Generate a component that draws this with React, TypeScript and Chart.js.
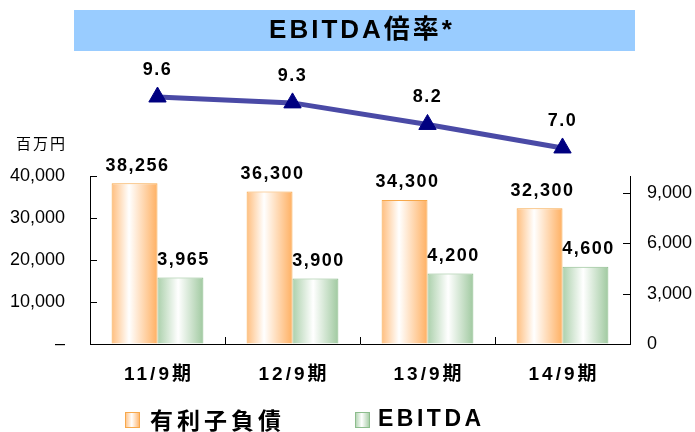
import React, { useEffect, useRef } from 'react';
import { Chart, registerables } from 'chart.js';

Chart.register(...registerables);

const categories = ['11/9期', '12/9期', '13/9期', '14/9期'];
const debtValues = [38256, 36300, 34300, 32300];
const ebitdaValues = [3965, 3900, 4200, 4600];
const ratioValues = [9.6, 9.3, 8.2, 7.0];
const leftTicks = [0, 10000, 20000, 30000, 40000];
const rightTicks = [0, 3000, 6000, 9000];
const seriesNames = ['有利子負債', 'EBITDA'];
const titleText = 'EBITDA倍率*';
const unitText = '百万円';

const CJK = '"Noto Sans CJK JP", "Liberation Sans", sans-serif';
const LAT = '"Liberation Sans", Arial, "Noto Sans CJK JP", sans-serif';
const CAT_PCT = 0.68;

const ORANGE = { l: '#ffbe7e', m: '#ffffff', r: '#ffb062', border: '#f7a84b', mid: 0.38 };
const GREEN = { l: '#abd0ab', m: '#ffffff', r: '#a0c9a0', border: '#8dbd8d', mid: 0.45 };

function makeGrad(ctx: CanvasRenderingContext2D, left: number, w: number, c: any, mid: number) {
  const g = ctx.createLinearGradient(left, 0, left + w, 0);
  g.addColorStop(0, c.l);
  g.addColorStop(mid, c.m);
  g.addColorStop(1, c.r);
  return g;
}

const fmt = (v: number) => v.toLocaleString('en-US');

const decorPlugin = {
  id: 'decor',
  beforeDraw(chart: any) {
    const s = chart.scales.x;
    if (s && !s.__ls) {
      const orig = s.drawLabels.bind(s);
      s.drawLabels = (ca: any) => {
        const c = chart.ctx;
        c.save();
        (c as any).letterSpacing = '3px';
        c.translate(1.5, 0);
        orig(ca);
        c.restore();
      };
      s.__ls = true;
    }
  },
  beforeDatasetsDraw(chart: any) {
    const ctx = chart.ctx as CanvasRenderingContext2D;
    [0, 1].forEach((di) => {
      const colors = di === 0 ? ORANGE : GREEN;
      chart.getDatasetMeta(di).data.forEach((el: any) => {
        const w = el.width;
        const left = el.x - w / 2;
        if (isFinite(left) && isFinite(w) && w > 0 && el.options) {
          el.options.backgroundColor = makeGrad(ctx, left, w, colors, colors.mid);
        }
      });
    });
  },
  afterDatasetsDraw(chart: any) {
    const ctx = chart.ctx as CanvasRenderingContext2D;
    // line markers lie above the plot area: draw them with the full canvas as area
    const full = { left: 0, top: 0, right: chart.width, bottom: chart.height };
    chart.getDatasetMeta(2).data.forEach((el: any) => el.draw(ctx, full));

    ctx.save();
    ctx.fillStyle = '#000';
    ctx.textAlign = 'center';
    ctx.textBaseline = 'middle';
    ctx.font = `bold 18px ${LAT}`;
    (ctx as any).letterSpacing = '1.5px';
    [0, 1].forEach((di) => {
      const meta = chart.getDatasetMeta(di);
      const vals = di === 0 ? debtValues : ebitdaValues;
      meta.data.forEach((el: any, i: number) => {
        ctx.fillText(fmt(vals[i]), el.x + 3, el.y - 17.5);
      });
    });
    const lm = chart.getDatasetMeta(2);
    lm.data.forEach((el: any, i: number) => {
      ctx.fillText(ratioValues[i].toFixed(1), el.x + 0, el.y - 27);
    });
    ctx.restore();
  },
  afterDraw(chart: any) {
    const ctx = chart.ctx as CanvasRenderingContext2D;
    const ca = chart.chartArea;
    const ys = chart.scales.y;
    const y1 = chart.scales.y1;
    const xs = chart.scales.x;
    ctx.save();
    ctx.strokeStyle = '#000';
    ctx.lineWidth = 1;
    ctx.beginPath();
    leftTicks.forEach((v) => {
      if (v === 0) return;
      const py = Math.round(ys.getPixelForValue(v)) + 0.5;
      ctx.moveTo(ca.left, py);
      ctx.lineTo(ca.left + 7, py);
    });
    rightTicks.forEach((v) => {
      if (v === 0) return;
      const py = Math.round(y1.getPixelForValue(v)) + 0.5;
      ctx.moveTo(ca.right - 7, py);
      ctx.lineTo(ca.right, py);
    });
    for (let i = 0; i < categories.length - 1; i++) {
      const px = Math.round((xs.getPixelForValue(i) + xs.getPixelForValue(i + 1)) / 2) + 0.5;
      ctx.moveTo(px, ca.bottom - 7);
      ctx.lineTo(px, ca.bottom);
    }
    ctx.stroke();

    ctx.fillStyle = '#99ccff';
    ctx.fillRect(74, 10, 561, 41);
    ctx.fillStyle = '#000';
    ctx.font = `bold 26px ${LAT}`;
    (ctx as any).letterSpacing = '3px';
    ctx.textAlign = 'center';
    ctx.textBaseline = 'middle';
    ctx.fillText(titleText, 362, 31);

    ctx.font = `15px ${CJK}`;
    (ctx as any).letterSpacing = '2px';
    ctx.textAlign = 'left';
    ctx.fillText(unitText, 16, 143);

    const drawBox = (x: number, colors: any) => {
      ctx.fillStyle = makeGrad(ctx, x, 15, colors, 0.45);
      ctx.fillRect(x, 412, 15, 16);
      ctx.strokeStyle = colors.border;
      ctx.lineWidth = 1;
      ctx.strokeRect(x + 0.5, 412.5, 14, 15);
    };
    drawBox(125, ORANGE);
    drawBox(355, GREEN);
    ctx.fillStyle = '#000';
    ctx.font = `bold 23px ${CJK}`;
    (ctx as any).letterSpacing = '4px';
    ctx.fillText(seriesNames[0], 150, 420);
    ctx.font = `bold 23px ${LAT}`;
    (ctx as any).letterSpacing = '3.5px';
    ctx.fillText(seriesNames[1], 378, 420);
    ctx.restore();
  },
};

export default function App() {
  const ref = useRef<HTMLCanvasElement>(null);
  useEffect(() => {
    if (!ref.current) return;
    const chart = new Chart(ref.current, {
      type: 'bar',
      data: {
        labels: categories,
        datasets: [
          {
            type: 'bar',
            label: seriesNames[0],
            data: debtValues,
            yAxisID: 'y',
            backgroundColor: ((c: any) => ORANGE.l) as any,
            borderColor: ORANGE.border,
            borderWidth: 1,
            categoryPercentage: CAT_PCT,
            barPercentage: 1,
            order: 2,
          },
          {
            type: 'bar',
            label: seriesNames[1],
            data: ebitdaValues,
            yAxisID: 'y1',
            backgroundColor: ((c: any) => GREEN.l) as any,
            borderColor: GREEN.border,
            borderWidth: 1,
            categoryPercentage: CAT_PCT,
            barPercentage: 1,
            order: 2,
          },
          {
            type: 'line',
            label: 'EBITDA倍率',
            data: ratioValues,
            yAxisID: 'y2',
            borderColor: '#4a4aa6',
            borderWidth: 5,
            pointStyle: 'triangle',
            pointRadius: 10,
            pointBackgroundColor: '#000080',
            pointBorderColor: '#000080',
            pointBorderWidth: 1,
            tension: 0,
            clip: false as any,
            order: 1,
          } as any,
        ],
      },
      options: {
        responsive: false,
        animation: false,
        devicePixelRatio: 1,
        layout: { padding: { top: 176, left: 0, right: 0, bottom: 0 } },
        plugins: {
          legend: { display: false },
          title: { display: false },
          tooltip: { enabled: false },
        },
        scales: {
          x: {
            type: 'category',
            offset: true,
            grid: { display: true, drawOnChartArea: false, drawTicks: false, offset: true },
            border: { display: true, color: '#000', width: 1 },
            ticks: { color: '#000', font: { family: LAT, size: 19, weight: 'bold' }, padding: 19 },
            afterFit: (s: any) => { s.height = 88; },
          },
          y: {
            position: 'left',
            min: 0,
            max: 40000,
            afterBuildTicks: (s: any) => { s.ticks = leftTicks.map((v) => ({ value: v })); },
            grid: { display: true, drawOnChartArea: false, drawTicks: false },
            border: { display: true, color: '#000', width: 1 },
            ticks: {
              color: '#000',
              font: { family: LAT, size: 18 },
              padding: 25,
              callback: (v: any) => (Number(v) === 0 ? '–' : fmt(Number(v))),
            },
            afterFit: (s: any) => { s.width = 90; },
          },
          y1: {
            position: 'right',
            min: 0,
            max: 10000,
            afterBuildTicks: (s: any) => { s.ticks = rightTicks.map((v) => ({ value: v })); },
            grid: { display: true, drawOnChartArea: false, drawTicks: false },
            border: { display: true, color: '#000', width: 1 },
            ticks: {
              color: '#000',
              font: { family: LAT, size: 18 },
              padding: 17,
              callback: (v: any) => fmt(Number(v)),
            },
            afterFit: (s: any) => { s.width = 65; },
          },
          y2: {
            display: false,
            min: -3,
            max: 5.57,
          },
        },
      } as any,
      plugins: [decorPlugin],
    });
    return () => chart.destroy();
  }, []);
  return (
    <div style={{ position: 'fixed', left: 0, top: 0, width: 695, height: 432, background: '#fff' }}>
      <canvas ref={ref} width={695} height={432} style={{ display: 'block', width: 695, height: 432 }} />
    </div>
  );
}
